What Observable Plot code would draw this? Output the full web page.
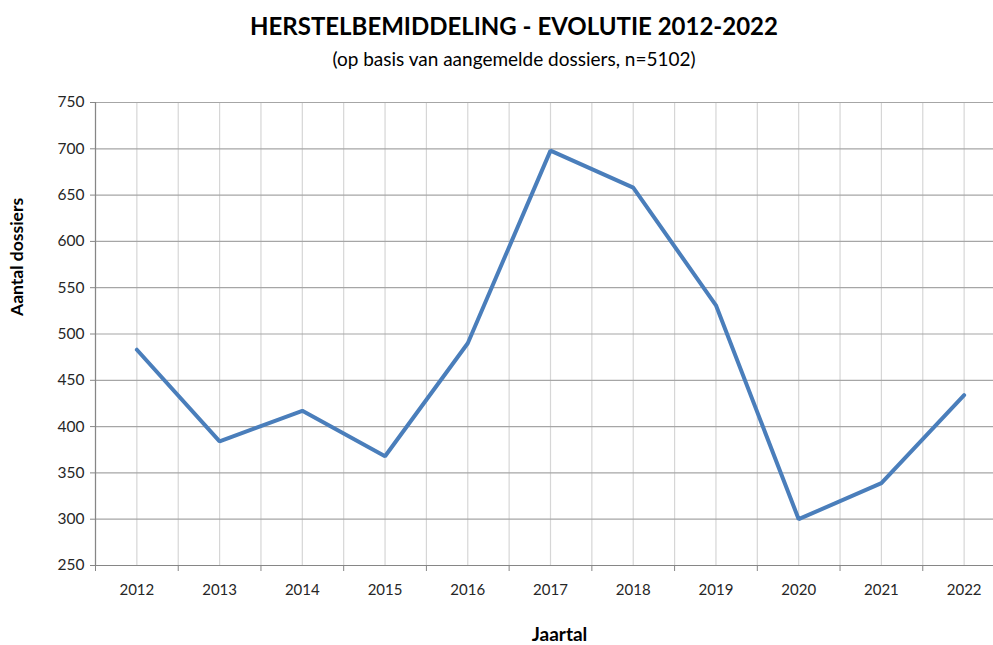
<!DOCTYPE html>
<html>
<head>
<meta charset="utf-8">
<script src="https://cdn.jsdelivr.net/npm/d3@7"></script>
<script src="https://cdn.jsdelivr.net/npm/@observablehq/plot@0.6"></script>
<style>
  html, body { margin: 0; padding: 0; background: #fff; overflow: hidden; width: 993px; height: 645px; }
  #wrap { position: relative; width: 993px; height: 645px; overflow: hidden; font-family: Lato, "Open Sans", sans-serif; }
  #title { position: absolute; top: 11px; left: 34px; width: 960px; text-align: center; font-weight: 700; font-size: 24px; color: #000; }
  #subtitle { position: absolute; top: 47px; left: 34px; width: 960px; text-align: center; font-size: 19px; color: #000; }
  #chart { position: absolute; top: 75px; left: 0; width: 1005px; }
  #chart svg { max-width: none !important; }
</style>
</head>
<body>
<div id="wrap">
  <div id="title">HERSTELBEMIDDELING - EVOLUTIE 2012-2022</div>
  <div id="subtitle">(op basis van aangemelde dossiers, n=5102)</div>
  <div id="chart"></div>
</div>
<script>
const years = [2012, 2013, 2014, 2015, 2016, 2017, 2018, 2019, 2020, 2021, 2022];
const dossiers = [483, 384, 417, 368, 490, 698, 658, 531, 300, 339, 434];
const yTicks = [250, 300, 350, 400, 450, 500, 550, 600, 650, 700, 750];
const yLabel = "Aantal dossiers";
const xLabel = "Jaartal";

const data = years.map((y, i) => ({year: y, value: dossiers[i]}));
const boundaries = years.map(y => y - 0.5).concat([years[years.length - 1] + 0.5]);
const font = "Lato, 'Open Sans', sans-serif";

const chart = Plot.plot({
  width: 1005,
  height: 570,
  marginLeft: 95,
  marginRight: 0,
  marginTop: 27,
  marginBottom: 80,
  style: {fontFamily: font, background: "#fff", overflow: "visible", maxWidth: "none"},
  x: {type: "linear", domain: [2011.5, 2022.5]},
  y: {type: "linear", domain: [250, 750]},
  marks: [
    Plot.ruleX(years, {stroke: "#d6d6d6", strokeWidth: 1.2}),
    Plot.ruleX(boundaries, {stroke: "#d6d6d6", strokeWidth: 1.2}),
    Plot.ruleY(yTicks.filter(v => v > 250), {stroke: "#a6a6a6", strokeWidth: 1.2}),
    Plot.ruleY([250], {stroke: "#868686", strokeWidth: 1.2}),
    Plot.ruleX([2011.5], {stroke: "#868686", strokeWidth: 1.2}),
    Plot.axisX(years, {tickSize: 0, tickFormat: d => String(d), fontSize: 15, fill: "#262626", tickPadding: 19, label: null}),
    Plot.axisX(boundaries, {tickSize: 6, tickFormat: () => "", stroke: "#868686", label: null}),
    Plot.axisY(yTicks, {tickSize: 5, tickPadding: 6, fontSize: 15.5, fill: "#262626", stroke: "#868686", label: null}),
    Plot.line(data, {x: "year", y: "value", stroke: "#4a7ebb", strokeWidth: 4, strokeLinejoin: "miter"}),
    Plot.text([yLabel], {frameAnchor: "left", rotate: -90, dx: -78, dy: -18, fontWeight: "bold", fontSize: 17.5, fill: "#000", text: d => d}),
    Plot.text([xLabel], {frameAnchor: "bottom", dx: 9, dy: 75, fontWeight: "bold", fontSize: 19, fill: "#000", text: d => d})
  ]
});
document.getElementById("chart").appendChild(chart);
</script>
</body>
</html>
